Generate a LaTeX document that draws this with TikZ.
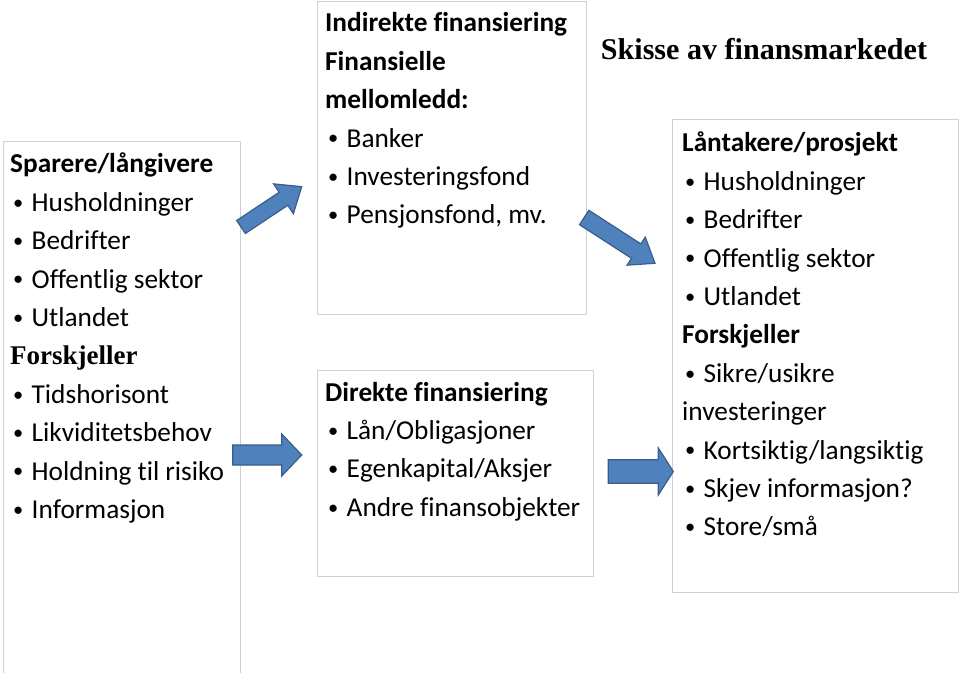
\documentclass[tikz,border=0pt]{standalone}
\usepackage{fontspec}
\setmainfont{Carlito}[Ligatures=NoCommon]
\newfontfamily\timesfont{Liberation Serif}

% bullet with a fixed indent, as in the slide
\newcommand{\itm}{\makebox[21.5pt][l]{\hspace{3pt}\raisebox{0.08em}{\scalebox{0.75}{\textbullet}}}}

\begin{document}
\begin{tikzpicture}[
    x=1pt, y=-1pt,
    font=\fontsize{27.3}{38.4}\selectfont,
    panel/.style={draw=boxgray, line width=1.2pt, anchor=north west, inner sep=0pt},
    listtext/.style={anchor=north west, inner sep=0pt, align=left},
    bigarrow/.style={fill=arrowblue, draw=arrowedge, line width=1.2pt, line join=miter}
]

\definecolor{boxgray}{RGB}{208, 208, 208}
\definecolor{arrowblue}{RGB}{79, 129, 189}
\definecolor{arrowedge}{RGB}{56, 93, 138}

\useasboundingbox (0, 0) rectangle (960, 672);

% Panels
\node[panel, minimum width=237pt, minimum height=540pt] (savers) at (3, 141) {};
\node[panel, minimum width=269pt, minimum height=313pt] (indirect) at (317, 1) {};
\node[panel, minimum width=276pt, minimum height=206pt] (direct) at (317, 370) {};
\node[panel, minimum width=286pt, minimum height=473pt] (borrowers) at (672, 119) {};

% Title
\node[anchor=base, font=\timesfont\bfseries\fontsize{30.1}{36}\selectfont] (title) at (764, 59) {Skisse av finansmarkedet};

% Savers
\node[listtext] (saverstext) at (10, 145.8) {%
    \strut\textbf{Sparere/långivere}\\
    \itm Husholdninger\\
    \itm Bedrifter\\
    \itm Offentlig sektor\\
    \itm Utlandet\\
    {\timesfont\bfseries\fontsize{27}{38.4}\selectfont Forskjeller}\\
    \itm Tidshorisont\\
    \itm Likviditetsbehov\\
    \itm Holdning til risiko\\
    \itm Informasjon};

% Indirect financing
\node[listtext] (indirecttext) at (325, 4.8) {%
    \strut\textbf{Indirekte finansiering}\\
    \textbf{Finansielle}\\
    \textbf{mellomledd:}\\
    \itm Banker\\
    \itm Investeringsfond\\
    \itm Pensjonsfond, mv.};

% Direct financing
\node[listtext] (directtext) at (325, 374.1) {%
    \strut\textbf{Direkte finansiering}\\
    \itm Lån/Obligasjoner\\
    \itm Egenkapital/Aksjer\\
    \itm Andre finansobjekter};

% Borrowers
\node[listtext] (borrowerstext) at (682, 124.8) {%
    \strut\textbf{Låntakere/prosjekt}\\
    \itm Husholdninger\\
    \itm Bedrifter\\
    \itm Offentlig sektor\\
    \itm Utlandet\\
    \textbf{Forskjeller}\\
    \itm Sikre/usikre\\
    investeringer\\
    \itm Kortsiktig/langsiktig\\
    \itm Skjev informasjon?\\
    \itm Store/små};

% Block arrows
\draw[bigarrow, shift={(241, 227)}, rotate=33.6]
    (0, -7.8) -- (51, -7.8) -- (51, -17.9) -- (72.9, 0) -- (51, 17.9) -- (51, 7.8) -- (0, 7.8) -- cycle;
\draw[bigarrow, shift={(232.7, 455)}]
    (0, -10) -- (49, -10) -- (49, -21) -- (69, 0) -- (49, 21) -- (49, 10) -- (0, 10) -- cycle;
\draw[bigarrow, shift={(584.2, 217.5)}, rotate=-32.9]
    (0, -8.6) -- (61.9, -8.6) -- (61.9, -16.7) -- (84.3, 0) -- (61.9, 16.7) -- (61.9, 8.6) -- (0, 8.6) -- cycle;
\draw[bigarrow, shift={(608.3, 471.5)}]
    (0, -11.7) -- (50, -11.7) -- (50, -23.5) -- (65, 0) -- (50, 23.5) -- (50, 11.7) -- (0, 11.7) -- cycle;

\end{tikzpicture}
\end{document}
